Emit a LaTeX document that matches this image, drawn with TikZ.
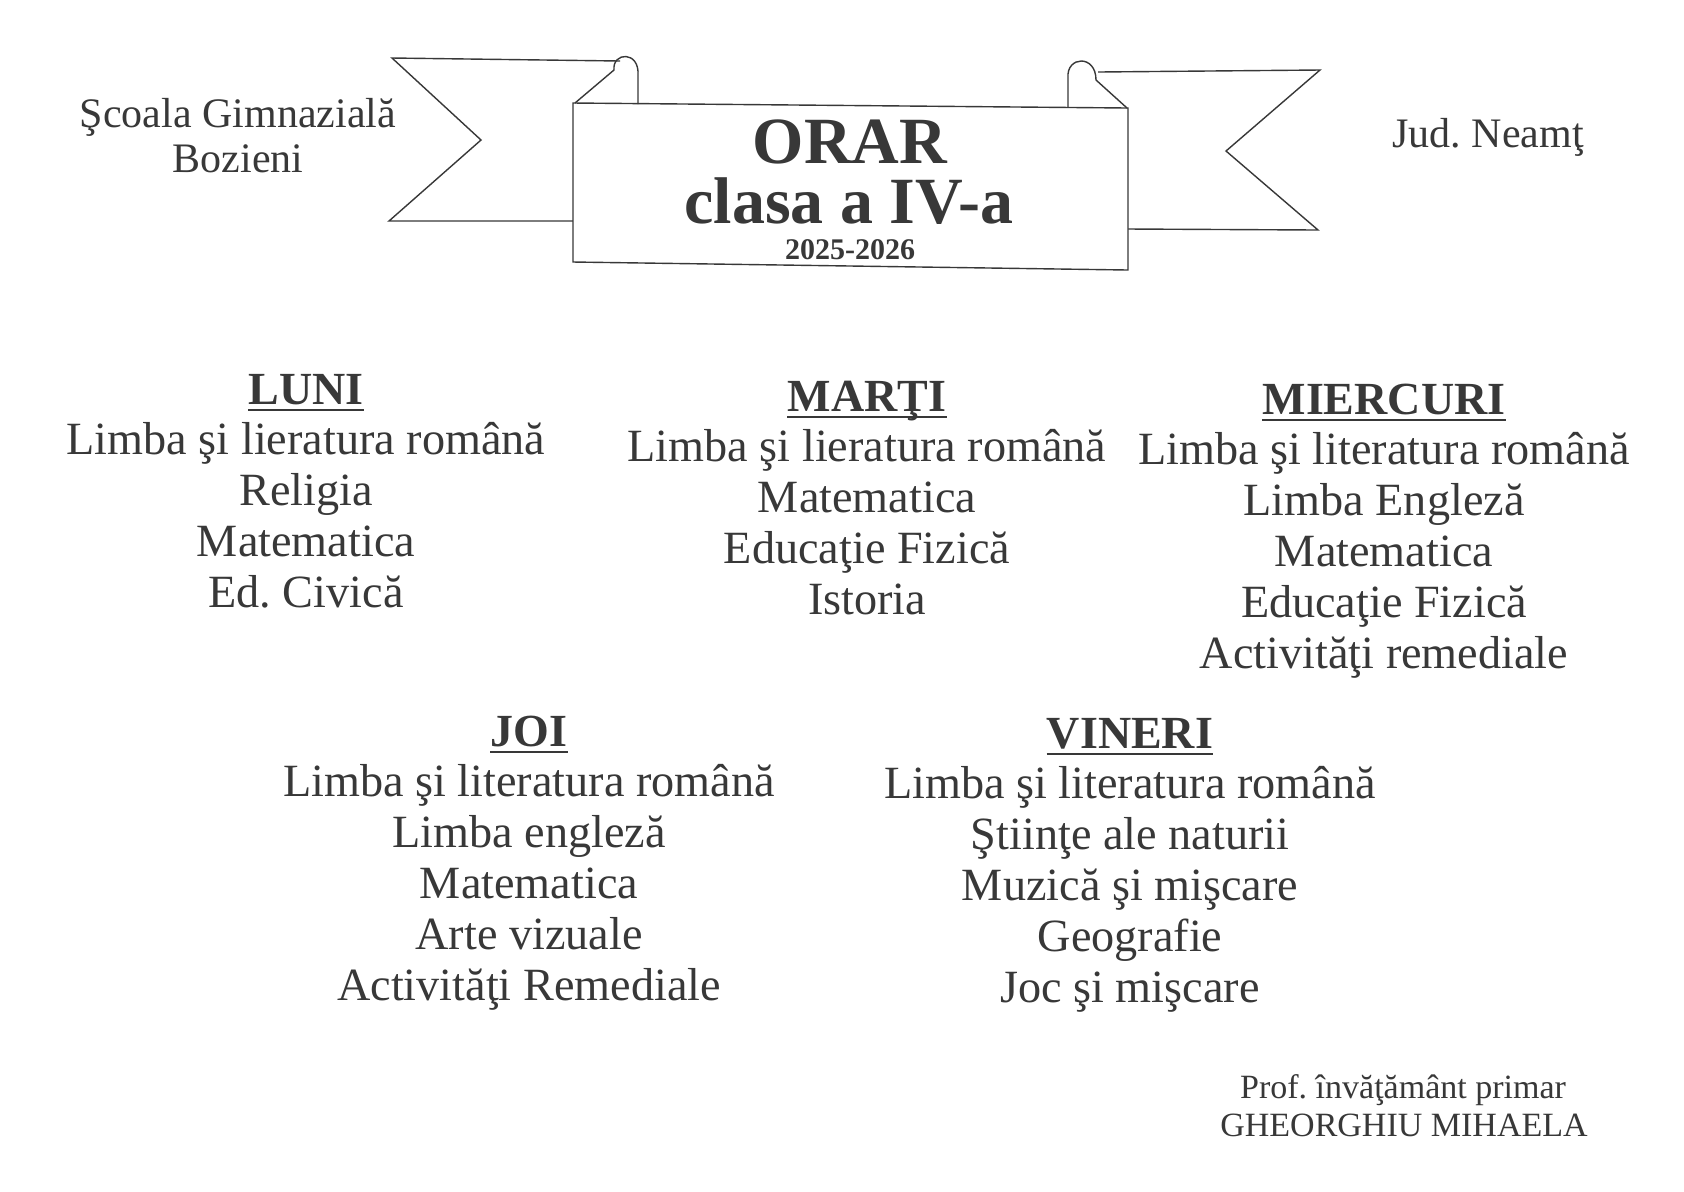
\documentclass[tikz,border=0pt]{standalone}
\usepackage{fontspec}
\setmainfont{Liberation Serif}
\usetikzlibrary{positioning}
\frenchspacing
\definecolor{ink}{rgb}{0.22,0.22,0.22}
\newcommand{\subjfont}{\fontsize{23.1}{25.5}\selectfont}
\newcommand{\headfont}{\fontsize{23}{25.5}\selectfont\bfseries}
\newcommand{\schoolfont}{\fontsize{21}{23}\selectfont}
\newcommand{\titlefont}{\fontsize{33}{36}\selectfont\bfseries}
\newcommand{\yearfont}{\fontsize{15}{17}\selectfont\bfseries}
\newcommand{\signfont}{\fontsize{17}{19}\selectfont}
\tikzset{
	subject/.style={font=\subjfont, text=ink, anchor=base, inner sep=0pt},
	dayhead/.style={font=\headfont, text=ink, anchor=base, inner sep=0pt},
	headrule/.style={draw=ink, line width=1.4pt},
	banner/.style={draw=ink, line width=0.7pt, line join=miter},
	plain text/.style={text=ink, anchor=base, inner sep=0pt}
}
\newcommand{\daycol}[5]{% node name, x, y of heading, heading, subjects
	\node[dayhead] (#1) at (#2,#3) {#4};
	\draw[headrule] ([yshift=-3pt]#1.base west) -- ([yshift=-3pt]#1.base east);
	\foreach \subj [count=\i] in {#5}
		\node[subject] (#1-\i) at (#2,#3+50.8*\i) {\subj};
}
\begin{document}
\begin{tikzpicture}[x=0.5pt, y=-0.5pt]
	\path[fill=white, use as bounding box] (0,0) rectangle (1684,1191);

	% banner
	\draw[banner] (620,61) -- (392,58) -- (481,140) -- (389,221) -- (573,221);
	\draw[banner] (1098,72) -- (1320,70) -- (1226,151) -- (1318,230) -- (1128,229);
	\draw[banner, fill=white] (573,103) -- (1128,108) -- (1128,270) -- (573,262) -- cycle;
	\draw[banner] (575,103) -- (614,70) .. controls (612,52) and (640,50) .. (638,76) -- (638,104);
	\draw[banner] (1068,107) -- (1068,78) .. controls (1066,56) and (1096,54) .. (1096,80) -- (1127,108);

	% header texts
	\node[plain text, font=\schoolfont] (school) at (238,127) {Şcoala Gimnazială};
	\node[plain text, font=\schoolfont] (village) at (238,172) {Bozieni};
	\node[plain text, font=\schoolfont] (county) at (1488,147) {Jud. Neamţ};

	\node[plain text, font=\titlefont] (orar) at (850,163) {ORAR};
	\node[plain text, font=\titlefont] (clasa) at (849,223) {clasa a IV-a};
	\node[plain text, font=\yearfont] (year) at (850,259) {2025-2026};

	% days
	\daycol{luni}{306}{404}{LUNI}{Limba şi lieratura română, Religia, Matematica, Ed. Civică}
	\daycol{marti}{867}{411}{MARŢI}{Limba şi lieratura română, Matematica, Educaţie Fizică, Istoria}
	\daycol{miercuri}{1384}{414}{MIERCURI}{Limba şi literatura română, Limba Engleză, Matematica, Educaţie Fizică, Activităţi remediale}
	\daycol{joi}{529}{746}{JOI}{Limba şi literatura română, Limba engleză, Matematica, Arte vizuale, Activităţi Remediale}
	\daycol{vineri}{1130}{748}{VINERI}{Limba şi literatura română, Ştiinţe ale naturii, Muzică şi mişcare, Geografie, Joc şi mişcare}

	% teacher
	\node[plain text, font=\signfont] (prof) at (1403,1098) {Prof. învăţământ primar};
	\node[plain text, font=\signfont] (teacher) at (1404,1136) {GHEORGHIU MIHAELA};
\end{tikzpicture}
\end{document}
